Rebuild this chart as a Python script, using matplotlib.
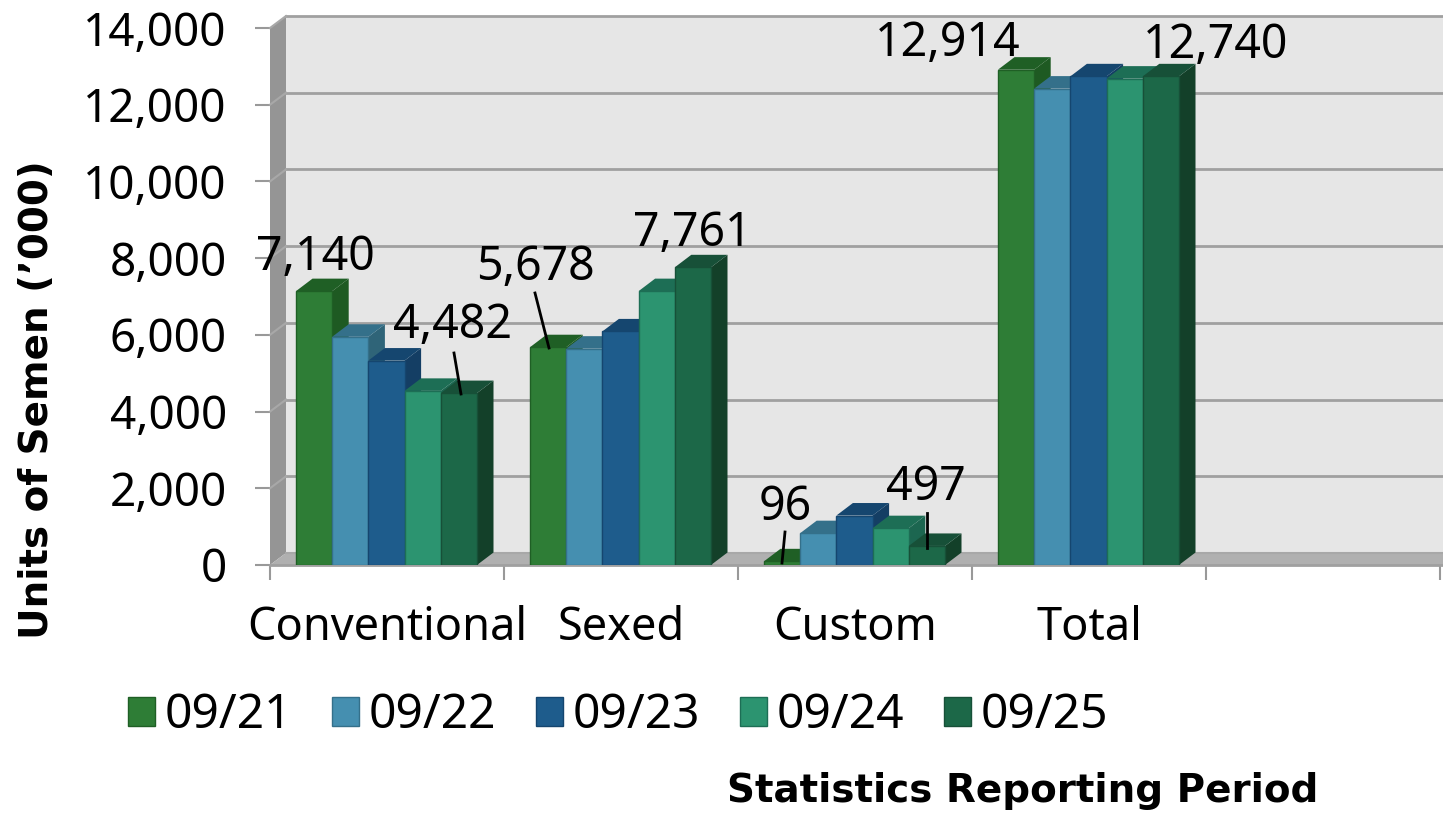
import matplotlib
matplotlib.use("Agg")
import matplotlib.pyplot as plt
from matplotlib.patches import Patch
from matplotlib.lines import Line2D

plt.rcParams["font.family"] = ["Noto Sans", "DejaVu Sans"]

# values
categories = ["Conventional", "Sexed", "Custom", "Total"]
periods = ["09/21", "09/22", "09/23", "09/24", "09/25"]
values_0921 = [7140, 5678, 96, 12914]
values_0922 = [5950, 5640, 830, 12420]
values_0923 = [5330, 6090, 1290, 12740]
values_0924 = [4540, 7140, 960, 12680]
values_0925 = [4482, 7761, 497, 12740]
series = [values_0921, values_0922, values_0923, values_0924, values_0925]
yticks = [0, 2000, 4000, 6000, 8000, 10000, 12000, 14000]

front = ["#2e7d36", "#458fb0", "#1e5c8c", "#2c9470", "#1c6848"]
top = ["#1f5f25", "#34708a", "#15466f", "#1d6e55", "#175038"]
side = ["#1e5a22", "#2f6478", "#143e64", "#1c6650", "#134029"]

W, H = 1443, 816
LEFT, BOTTOM, TOP = 270, 565, 28


def px(x, y):
    return x / W, 1 - y / H


fig = plt.figure(figsize=(W / 100, H / 100), dpi=100)
ax = fig.add_axes([LEFT / W, (H - BOTTOM) / H, (W - LEFT) / W, (BOTTOM - TOP) / H])
ax.set_xlim(0, (W - LEFT) / 234)
ax.set_ylim(0, 14000)
for s in ax.spines.values():
    s.set_visible(False)
ax.patch.set_visible(False)

# depth of the fake 3d box, in data units
dx = 16 / 234
dy = 12 / (BOTTOM - TOP) * 14000
bar_dx = 16.5 / 234
bar_dy = 12.5 / (BOTTOM - TOP) * 14000
xmax = ax.get_xlim()[1]
ymax = 14000 + dy

# walls and floor
ax.fill([dx, xmax, xmax, dx], [dy, dy, ymax, ymax], color="#e6e6e6", lw=0, clip_on=False, zorder=1)
ax.fill([0, dx, dx, 0], [0, dy, ymax, 14000], color="#959595", lw=0, clip_on=False, zorder=1)
ax.fill([0, dx, xmax, xmax], [0, dy, dy, 0], color="#b0b0b0", lw=0, clip_on=False, zorder=1)
for v in yticks[1:]:
    ax.plot([dx, xmax], [v + dy, v + dy], color="#a0a0a0", lw=2, clip_on=False, zorder=2)
    ax.plot([0, dx], [v, v + dy], color="#a8a8a8", lw=1.5, clip_on=False, zorder=2)
ax.plot([dx, xmax], [dy, dy], color="#a8a8a8", lw=1.5, clip_on=False, zorder=2)
ax.plot([0, xmax], [0, 0], color="#a0a0a0", lw=2, clip_on=False, zorder=2)

# bars, drawn left to right so the next bar hides the side of the last
bar_w = 36.2 / 234
start = 26 / 234
z = 3
for c in range(len(categories)):
    for i in range(len(periods)):
        v = series[i][c]
        x0 = c + start + i * bar_w
        x1 = x0 + bar_w
        ax.fill([x1, x1 + bar_dx, x1 + bar_dx, x1], [0, bar_dy, v + bar_dy, v], color=side[i], lw=0, zorder=z)
        ax.fill([x0, x0 + bar_dx, x1 + bar_dx, x1], [v, v + bar_dy, v + bar_dy, v], color=top[i], lw=0, zorder=z)
        ax.fill([x0, x1, x1, x0], [0, 0, v, v], facecolor=front[i], edgecolor=top[i], lw=1, zorder=z + 0.5)
        z += 1

ax.set_yticks(yticks)
ax.set_yticklabels([f"{v:,}" for v in yticks], fontsize=33)
ax.set_xticks(range(6))
ax.set_xticklabels([])
ax.set_xticks([c + 0.5 for c in range(len(categories))], minor=True)
ax.set_xticklabels(categories, minor=True, fontsize=32.5)
ax.tick_params(axis="y", length=11, width=1.5, color="#999999", pad=20)
ax.tick_params(axis="x", which="major", length=11, width=1.5, color="#999999")
ax.tick_params(axis="x", which="minor", length=0, pad=29)

# data labels and their leader lines
labels = [(f"{values_0921[0]:,}", 315, 258), (f"{values_0925[0]:,}", 453, 326),
          (f"{values_0921[1]:,}", 535, 268), (f"{values_0925[1]:,}", 692, 233),
          (f"{values_0921[2]:,}", 785, 507), (f"{values_0925[2]:,}", 926, 488),
          (f"{values_0921[3]:,}", 948, 43), (f"{values_0925[3]:,}", 1216, 45)]
for txt, x, y in labels:
    fig.text(*px(x, y), txt, fontsize=33.5, ha="center", va="center", color="black", zorder=50)

leaders = [(535, 293, 549, 348), (454, 353, 461, 394), (785, 532, 782, 563), (927, 513, 927, 548)]
for x0, y0, x1, y1 in leaders:
    a, b = px(x0, y0), px(x1, y1)
    fig.add_artist(Line2D([a[0], b[0]], [a[1], b[1]], color="black", lw=2, zorder=50))

fig.text(*px(37, 400), "Units of Semen (\u2019000)", fontsize=28, fontweight="bold", family="DejaVu Sans",
         rotation=90, ha="center", va="center")
fig.text(*px(1023, 791), "Statistics Reporting Period", fontsize=28, fontweight="bold", family="DejaVu Sans",
         ha="center", va="center")

handles = [Patch(facecolor=front[i], edgecolor=top[i], label=periods[i]) for i in range(len(periods))]
fig.legend(handles=handles, ncol=5, frameon=False, fontsize=34.5, loc="center",
           bbox_to_anchor=px(618, 716), handlelength=0.556, handleheight=0.556,
           handletextpad=0.2, columnspacing=0.84, borderpad=0, borderaxespad=0)

fig.savefig("out.png", dpi=100)
